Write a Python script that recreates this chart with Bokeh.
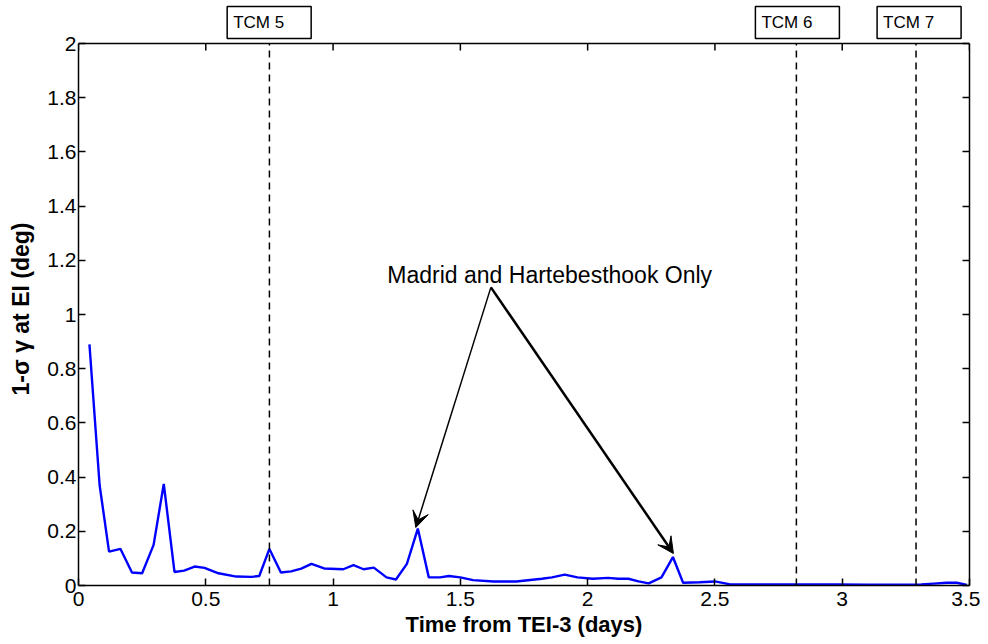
from bokeh.plotting import figure
from bokeh.models import (Range1d, LinearAxis, FixedTicker, CustomJSTickFormatter,
                          Span, Label, Arrow, VeeHead, ColumnDataSource)
from bokeh.embed import file_html
from bokeh.resources import INLINE

# ---- data ----
time_days = [0.043, 0.083, 0.12, 0.165, 0.21, 0.25, 0.295, 0.335, 0.377, 0.415,
             0.456, 0.495, 0.55, 0.62, 0.68, 0.71, 0.75, 0.795, 0.835, 0.875,
             0.915, 0.965, 1.04, 1.08, 1.12, 1.16, 1.21, 1.247, 1.29, 1.333,
             1.376, 1.42, 1.455, 1.5, 1.55, 1.63, 1.72, 1.82, 1.86, 1.91,
             1.96, 2.02, 2.08, 2.12, 2.16, 2.2, 2.24, 2.29, 2.335, 2.375,
             2.44, 2.5, 2.56, 2.7, 2.85, 2.98, 3.1, 3.2, 3.31, 3.36,
             3.41, 3.45, 3.49]
sigma_gamma = [0.89, 0.37, 0.125, 0.135, 0.048, 0.045, 0.15, 0.375, 0.05, 0.055,
               0.07, 0.065, 0.045, 0.033, 0.032, 0.035, 0.135, 0.048, 0.052, 0.062,
               0.08, 0.063, 0.06, 0.075, 0.06, 0.066, 0.03, 0.022, 0.08, 0.21,
               0.03, 0.03, 0.035, 0.03, 0.02, 0.015, 0.015, 0.025, 0.03, 0.04,
               0.03, 0.025, 0.028, 0.025, 0.025, 0.015, 0.008, 0.03, 0.105, 0.01,
               0.012, 0.015, 0.004, 0.004, 0.004, 0.004, 0.003, 0.003, 0.004, 0.007,
               0.01, 0.01, 0.002]

tcm_names = ["TCM 5", "TCM 6", "TCM 7"]
tcm_times = [0.75, 2.82, 3.29]
tcm_box_left = [0.584, 2.659, 3.137]

x_ticks = [0, 0.5, 1, 1.5, 2, 2.5, 3, 3.5]
y_ticks = [0, 0.2, 0.4, 0.6, 0.8, 1, 1.2, 1.4, 1.6, 1.8, 2]

note_text = "Madrid and Hartebesthook Only"
note_xy = (1.851, 1.144)
arrow_tail = (1.62, 1.10)
arrow_heads = [(1.325, 0.214), (2.337, 0.118)]

FONT = "Liberation Sans"
Y_MIN, Y_MAX = 0, 2
PX_PER_Y = 271.0                 # frame pixels per y unit
HEADROOM = 43 / PX_PER_Y         # strip above the axes box that holds the TCM boxes
TICK_LEN_Y = 7 / PX_PER_Y

# trailing no-break spaces keep the rotated label centred on the axes box, not the frame
y_label = "1-\u03c3 \u03b3 at EI (deg)" + "\u00a0" * 5

p = figure(width=980, height=640, output_backend="svg", toolbar_location=None,
           x_range=Range1d(0, 3.5), y_range=Range1d(Y_MIN, Y_MAX + HEADROOM),
           min_border_left=78, min_border_right=11, min_border_top=0, min_border_bottom=55,
           x_axis_label="Time from TEI-3 (days)", y_axis_label=y_label)
p.grid.visible = False
p.background_fill_color = "white"
p.border_fill_color = "white"
p.outline_line_color = None

fmt = CustomJSTickFormatter(code="return (Math.round(tick*10)/10).toString();")

for ax in (p.xaxis[0], p.yaxis[0]):
    ax.formatter = fmt
    ax.major_tick_in = 7
    ax.major_tick_out = 0
    ax.minor_tick_in = 0
    ax.minor_tick_out = 0
    ax.axis_line_width = 1.5
    ax.major_tick_line_width = 1.5
    ax.major_label_text_font = FONT
    ax.major_label_text_font_size = "21px"
    ax.major_label_text_color = "black"
    ax.axis_label_text_font = FONT
    ax.axis_label_text_font_style = "bold"
    ax.axis_label_text_color = "black"
p.xaxis[0].ticker = FixedTicker(ticks=x_ticks)
p.yaxis[0].ticker = FixedTicker(ticks=y_ticks)
p.yaxis[0].bounds = (Y_MIN, Y_MAX)
p.xaxis[0].major_label_standoff = 6
p.xaxis[0].axis_label_standoff = 3
p.xaxis[0].axis_label_text_font_size = "22px"
p.yaxis[0].major_label_standoff = 2
p.yaxis[0].axis_label_standoff = 10
p.yaxis[0].axis_label_text_font_size = "23px"

right_ax = LinearAxis(ticker=FixedTicker(ticks=y_ticks), bounds=(Y_MIN, Y_MAX),
                      major_tick_in=7, major_tick_out=0,
                      minor_tick_in=0, minor_tick_out=0, major_label_text_color=None,
                      major_label_text_font_size="1px", major_label_standoff=0,
                      axis_line_width=1.5, major_tick_line_width=1.5)
p.add_layout(right_ax, "right")

# top edge of the axes box and its inward ticks
p.add_layout(Span(location=Y_MAX, dimension="width", line_color="black", line_width=1.5))
p.segment(x0=x_ticks, y0=[Y_MAX] * len(x_ticks), x1=x_ticks,
          y1=[Y_MAX - TICK_LEN_Y] * len(x_ticks), line_color="black", line_width=1.5)

src = ColumnDataSource(dict(x=time_days, y=sigma_gamma))
p.line("x", "y", source=src, line_color="#0000ff", line_width=2.4)

# TCM markers
p.segment(x0=tcm_times, y0=[Y_MIN] * 3, x1=tcm_times, y1=[Y_MAX] * 3,
          line_color="black", line_dash="7 5", line_width=1.5)
for name, bl in zip(tcm_names, tcm_box_left):
    p.add_layout(Label(x=bl, y=Y_MAX + HEADROOM - 6 / PX_PER_Y, text=name,
                       text_align="left", text_baseline="top",
                       text_font=FONT, text_font_size="17px", text_color="black",
                       border_line_color="black", border_line_width=1.5,
                       background_fill_color="white",
                       padding=(6, 27, 6, 7)))

p.add_layout(Label(x=note_xy[0], y=note_xy[1], text=note_text, text_align="center",
                   text_baseline="middle", text_font=FONT, text_font_size="23px",
                   text_color="black"))

for (hx, hy), lw in zip(arrow_heads, [1.5, 2.5]):
    p.add_layout(Arrow(x_start=arrow_tail[0], y_start=arrow_tail[1], x_end=hx, y_end=hy,
                       line_color="black", line_width=lw,
                       end=VeeHead(size=16, fill_color="black", line_color="black", line_width=1)))

open("out.html", "w").write(file_html(p, INLINE))
